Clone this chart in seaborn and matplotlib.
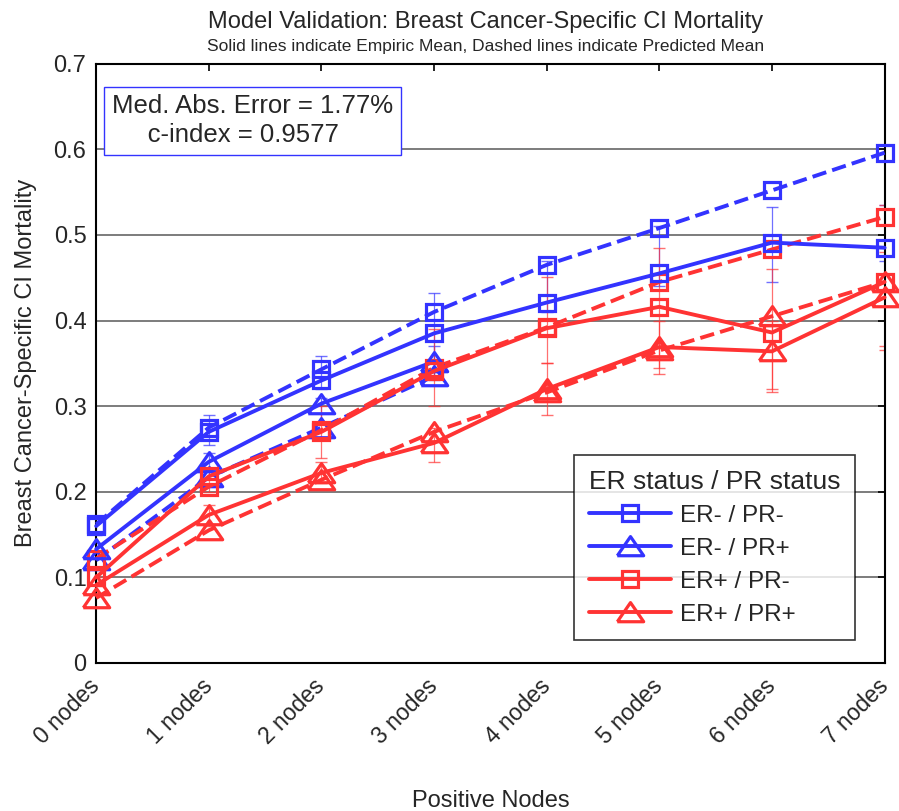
## Model validation chart: empiric vs predicted CI mortality by ER/PR status

import numpy as np
import pandas as pd
import seaborn as sns
import matplotlib.pyplot as plt

sns.set_style("white")
plt.rcParams["font.family"] = ["Liberation Sans", "DejaVu Sans"]

# Data
node_labels = ["0 nodes", "1 nodes", "2 nodes", "3 nodes", "4 nodes", "5 nodes", "6 nodes", "7 nodes"]
nodes = np.arange(len(node_labels))

# ER- / PR-
emp_neg_neg = [0.160, 0.270, 0.330, 0.385, 0.421, 0.455, 0.491, 0.485]
pred_neg_neg = [0.162, 0.275, 0.343, 0.410, 0.465, 0.508, 0.552, 0.596]
lo_neg_neg = [0.150, 0.255, 0.320, 0.335, 0.410, 0.440, 0.445, 0.470]
hi_neg_neg = [0.170, 0.290, 0.358, 0.432, 0.470, 0.510, 0.533, 0.535]

# ER- / PR+ (only up to 3 nodes)
emp_neg_pos = [0.133, 0.235, 0.303, 0.352]
pred_neg_pos = [0.120, 0.217, 0.275, 0.335]
lo_neg_pos = [0.125, 0.215, 0.280, 0.330]
hi_neg_pos = [0.140, 0.245, 0.310, 0.370]

# ER+ / PR-
emp_pos_neg = [0.100, 0.218, 0.270, 0.341, 0.391, 0.416, 0.386, 0.445]
pred_pos_neg = [0.122, 0.206, 0.272, 0.345, 0.392, 0.445, 0.483, 0.521]
lo_pos_neg = [0.090, 0.200, 0.240, 0.300, 0.350, 0.345, 0.320, 0.370]
hi_pos_neg = [0.110, 0.225, 0.300, 0.390, 0.451, 0.485, 0.460, 0.535]

# ER+ / PR+
emp_pos_pos = [0.091, 0.173, 0.222, 0.257, 0.320, 0.369, 0.364, 0.427]
pred_pos_pos = [0.076, 0.155, 0.214, 0.270, 0.316, 0.365, 0.405, 0.445]
lo_pos_pos = [0.080, 0.160, 0.210, 0.235, 0.290, 0.337, 0.316, 0.366]
hi_pos_pos = [0.100, 0.185, 0.235, 0.275, 0.350, 0.400, 0.400, 0.480]

blue = "#3333ff"
red = "#ff3333"
tri = [(-1, -0.7), (1, -0.7), (0, 0.75), (-1, -0.7)]

groups = [
    ("ER- / PR-", emp_neg_neg, pred_neg_neg, lo_neg_neg, hi_neg_neg, blue, "s", 12),
    ("ER- / PR+", emp_neg_pos, pred_neg_pos, lo_neg_pos, hi_neg_pos, blue, tri, 19),
    ("ER+ / PR-", emp_pos_neg, pred_pos_neg, lo_pos_neg, hi_pos_neg, red, "s", 12),
    ("ER+ / PR+", emp_pos_pos, pred_pos_pos, lo_pos_pos, hi_pos_pos, red, tri, 19),
]

fig = plt.figure(figsize=(8.99, 8.11), dpi=100)
ax = fig.add_axes([0.107, 0.1825, 0.877, 0.739])

handles = []
for name, emp, pred, lo, hi, col, mk, ms in groups:
    x = nodes[:len(emp)]
    emp = np.array(emp)
    # confidence bars
    ax.errorbar(x, emp, yerr=[emp - np.array(lo), np.array(hi) - emp], fmt="none",
                ecolor=col, elinewidth=0.9, capsize=4, alpha=0.7, zorder=2)
    # predicted mean (dashed)
    sns.lineplot(x=x, y=pred, ax=ax, color=col, lw=2.8, linestyle="--", dashes=(3.6, 1.8),
                 marker=mk, markersize=ms, mfc="none", mec=col, mew=2.3, zorder=3, clip_on=False)
    # empiric mean (solid)
    sns.lineplot(x=x, y=emp, ax=ax, color=col, lw=2.8, marker=mk, markersize=ms,
                 mfc="none", mec=col, mew=2.3, zorder=4, clip_on=False)
    handles.append(ax.lines[-1])

ax.set_xlim(0, 7)
ax.set_ylim(0, 0.7)
ax.set_xticks(nodes)
ax.set_xticklabels(node_labels, rotation=45, ha="right", va="center", rotation_mode="anchor", fontsize=16.5)
ax.set_yticks(np.arange(0, 0.71, 0.1))
ax.set_yticklabels(["0", "0.1", "0.2", "0.3", "0.4", "0.5", "0.6", "0.7"], fontsize=17)
ax.tick_params(direction="in", top=True, right=True, length=5, width=1.2, color="black")
ax.tick_params(axis="x", pad=14)
ax.tick_params(axis="y", pad=7)
ax.yaxis.grid(True, color="#666666", lw=1.2)
ax.set_axisbelow(True)
for s in ax.spines.values():
    s.set_color("black")
    s.set_linewidth(1.5)

ax.set_xlabel("Positive Nodes", fontsize=17, labelpad=30)
ax.set_ylabel("Breast Cancer-Specific CI Mortality", fontsize=17, labelpad=12)
fig.text(0.54, 0.966, "Model Validation: Breast Cancer-Specific CI Mortality", ha="center", fontsize=17)
fig.text(0.54, 0.937, "Solid lines indicate Empiric Mean, Dashed lines indicate Predicted Mean",
         ha="center", fontsize=12.5)

ax.text(0.02, 0.949, "Med. Abs. Error = 1.77%\n     c-index = 0.9577", transform=ax.transAxes,
        fontsize=18.5, va="top", ha="left", linespacing=1.25,
        bbox=dict(boxstyle="square,pad=0.3", fc="white", ec=blue, lw=1))

leg = ax.legend(handles, [g[0] for g in groups], title="ER status / PR status",
                loc="lower right", bbox_to_anchor=(0.962, 0.038), borderaxespad=0,
                fontsize=17.5, title_fontsize=19, handlelength=3.4, handletextpad=0.35,
                frameon=True, fancybox=False, edgecolor="black",
                borderpad=0.6, labelspacing=0.45)
leg.get_frame().set_linewidth(1.2)
leg._legend_box.align = "left"

fig.savefig("out.png", dpi=100)
